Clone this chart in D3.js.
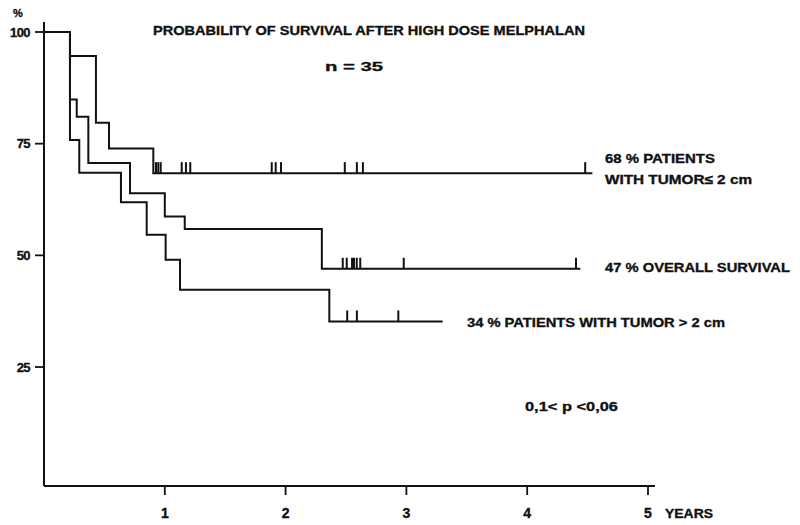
<!DOCTYPE html>
<html><head><meta charset="utf-8">
<script src="https://cdn.jsdelivr.net/npm/d3@7"></script>
<style>body{margin:0;background:#fff}svg{display:block}text{font-family:"Liberation Sans",Arial,sans-serif;font-weight:bold;fill:#111;stroke:#111;stroke-width:0.35}</style>
</head><body>
<script>
// Survival steps: [years, percent]
const smallTumor = [[0,100],[0.215,94.6],[0.43,79.7],[0.538,73.9],[0.905,68.4],[4.54,68.4]];
const smallTumorCensored = [0.927,0.946,0.966,1.14,1.175,1.211,1.885,1.918,1.962,2.49,2.59,2.64,4.48];
const overall = [[0,100],[0.215,84.9],[0.271,81.0],[0.367,70.7],[0.712,63.9],[1.0,58.7],[1.165,55.9],[2.30,47.0],[4.44,47.0]];
const overallCensored = [2.473,2.506,2.55,2.566,2.589,2.618,2.978,4.404];
const largeTumor = [[0,100],[0.215,75.8],[0.292,68.5],[0.637,61.9],[0.85,54.6],[1.007,49.0],[1.126,42.3],[2.362,35.2],[3.30,35.2]];
const largeTumorCensored = [2.51,2.59,2.933];
const xTicks = [1,2,3,4,5];
const yTicks = [25,50,75,100];

const W=800,H=525;
const svg=d3.select("body").append("svg").attr("width",W).attr("height",H);
const x=d3.scaleLinear().domain([0,5]).range([44,648]);
const y=d3.scaleLinear().domain([0,100]).range([478.7,32]);
const axisY=486;

// axes lines
svg.append("line").attr("x1",x(0)).attr("x2",x(0)).attr("y1",axisY).attr("y2",22).attr("stroke","#111").attr("stroke-width",2);
svg.append("line").attr("x1",x(0)).attr("x2",655).attr("y1",axisY).attr("y2",axisY).attr("stroke","#111").attr("stroke-width",2);

// y ticks
yTicks.forEach(v=>{
  svg.append("line").attr("x1",x(0)-9).attr("x2",x(0)).attr("y1",y(v)).attr("y2",y(v)).attr("stroke","#111").attr("stroke-width",1.8);
  svg.append("text").attr("x",x(0)-14).attr("y",y(v)+4.5).attr("text-anchor","end").attr("font-size",13).attr("letter-spacing",-0.6).text(v);
});
svg.append("text").attr("x",18).attr("y",17).attr("text-anchor","middle").attr("font-size",11).text("%");

// x ticks
xTicks.forEach(v=>{
  svg.append("line").attr("x1",x(v)).attr("x2",x(v)).attr("y1",axisY).attr("y2",axisY+9).attr("stroke","#111").attr("stroke-width",1.8);
  svg.append("text").attr("x",x(v)).attr("y",518).attr("text-anchor","middle").attr("font-size",14).text(v);
});
svg.append("text").attr("x",665).attr("y",518).attr("font-size",13).attr("textLength",48).attr("lengthAdjust","spacingAndGlyphs").text("YEARS");

// curves
const line=d3.line().x(d=>x(d[0])).y(d=>y(d[1])).curve(d3.curveStepAfter);
function drawCurve(data,cens){
  svg.append("path").attr("d",line(data)).attr("fill","none").attr("stroke","#111").attr("stroke-width",2);
  const lv=t=>{let v=data[0][1];data.forEach(d=>{if(d[0]<=t)v=d[1];});return v;};
  cens.forEach(t=>{
    svg.append("line").attr("x1",x(t)).attr("x2",x(t)).attr("y1",y(lv(t))).attr("y2",y(lv(t))-11).attr("stroke","#111").attr("stroke-width",2);
  });
}
drawCurve(smallTumor,smallTumorCensored);
drawCurve(overall,overallCensored);
drawCurve(largeTumor,largeTumorCensored);

// titles
function txt(s,xx,yy,len,fs){svg.append("text").attr("x",xx).attr("y",yy).attr("font-size",fs).attr("textLength",len).attr("lengthAdjust","spacingAndGlyphs").text(s);}
txt("PROBABILITY OF SURVIVAL AFTER HIGH DOSE MELPHALAN",153,35,432,12.8);
txt("n  =  35",325,71,58,13);
txt("68 % PATIENTS",605,162.5,110,13);
txt("WITH TUMOR\u2264 2 cm",605,183.5,147,13);
txt("47 % OVERALL SURVIVAL",605,271.5,185,13);
txt("34 % PATIENTS WITH TUMOR > 2 cm",467,327,258,13);
txt("0,1< p <0,06",525,411,93,13.5);
</script>
</body></html>
